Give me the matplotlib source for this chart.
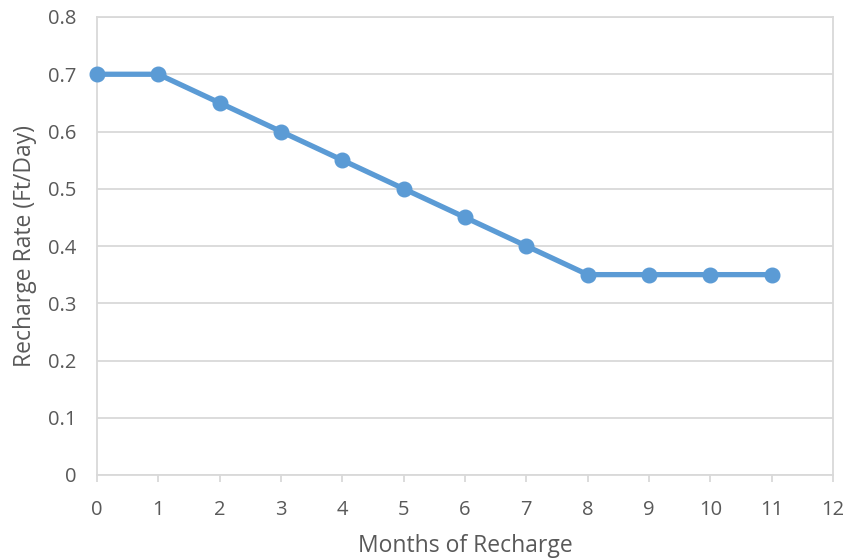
import matplotlib.pyplot as plt

months = [0, 1, 2, 3, 4, 5, 6, 7, 8, 9, 10, 11]
rate = [0.70, 0.70, 0.65, 0.60, 0.55, 0.50, 0.45, 0.40, 0.35, 0.35, 0.35, 0.35]

plt.rcParams['font.family'] = ['Open Sans', 'DejaVu Sans']

fig = plt.figure(figsize=(8.49, 5.59), dpi=100)
ax = fig.add_axes([97 / 849, 1 - 475 / 559, (833 - 97) / 849, (475 - 17) / 559])

grid_col = '#d9d9d9'
ax.plot(months, rate, color='#5b9bd5', linewidth=3.8, marker='o', markersize=10.5,
        clip_on=False, zorder=3)

ax.set_xlim(0, 12)
ax.set_ylim(0, 0.8)
ax.set_xticks(range(0, 13))
ax.set_yticks([0, 0.1, 0.2, 0.3, 0.4, 0.5, 0.6, 0.7, 0.8])
ax.set_yticklabels(['0', '0.1', '0.2', '0.3', '0.4', '0.5', '0.6', '0.7', '0.8'])
ax.yaxis.grid(True, color=grid_col, linewidth=1.3)
ax.set_axisbelow(True)

for s in ax.spines.values():
    s.set_color(grid_col)
    s.set_linewidth(1.3)

ax.tick_params(axis='y', length=0, pad=15, labelsize=14.5, labelcolor='#595959')
ax.tick_params(axis='x', length=5, width=1.3, color=grid_col, pad=13,
               labelsize=14.5, labelcolor='#595959')

ax.set_xlabel('Months of Recharge', fontsize=16.5, color='#595959', labelpad=10)
ax.set_ylabel('Recharge Rate (Ft/Day)', fontsize=16.5, color='#595959', labelpad=8)

fig.savefig('out.png', dpi=100)
